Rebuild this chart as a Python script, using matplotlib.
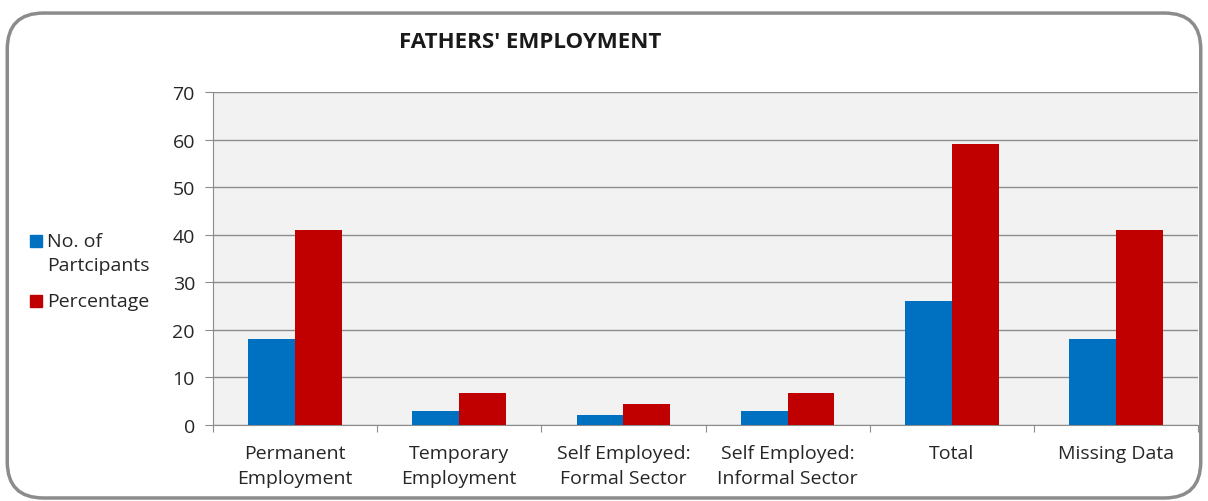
import matplotlib.pyplot as plt
import numpy as np
from matplotlib.patches import FancyBboxPatch, Rectangle

plt.rcParams['font.family'] = ['Open Sans', 'DejaVu Sans']

# data
categories = ["Permanent\nEmployment", "Temporary\nEmployment", "Self Employed:\nFormal Sector",
              "Self Employed:\nInformal Sector", "Total", "Missing Data"]
participants = [18, 3, 2, 3, 26, 18]
percentage = [40.9, 6.8, 4.5, 6.8, 59.1, 40.9]
series_labels = ["No. of\nPartcipants", "Percentage"]
yticks = [0, 10, 20, 30, 40, 50, 60, 70]

blue = "#0070C0"
red = "#C00000"
txt = "#262626"

W, H = 1208, 502
fig = plt.figure(figsize=(W / 100, H / 100), dpi=100)

# rounded outer frame, kept behind the axes
frame = FancyBboxPatch((0.006, 0.006), 0.988, 0.966, boxstyle="round,pad=0,rounding_size=0.03",
                       transform=fig.transFigure, facecolor="white", edgecolor="#8C8C8C",
                       linewidth=2.5, mutation_aspect=W / H, zorder=-10)
fig.patches.append(frame)

ax = fig.add_axes([213 / W, 76 / H, 985 / W, 333 / H])
ax.set_facecolor("#F2F2F2")

x = np.arange(len(categories))
w = 0.285
ax.bar(x - w / 2, participants, w, color=blue, zorder=3)
ax.bar(x + w / 2, percentage, w, color=red, zorder=3)

ax.set_xlim(-0.5, len(categories) - 0.5)
ax.set_ylim(0, 70)
ax.set_yticks(yticks)
ax.yaxis.grid(True, color="#8C8C8C", linewidth=1, zorder=0)
ax.set_xticks(np.arange(-0.5, len(categories)))
ax.set_xticklabels([])
ax.set_xticks(x, minor=True)
ax.set_xticklabels(categories, minor=True, fontsize=14, color=txt, linespacing=1.5)
ax.tick_params(axis="x", which="minor", length=0, pad=14)
ax.tick_params(axis="x", which="major", length=5, color="#8C8C8C", direction="out")
ax.tick_params(axis="y", length=6, color="#8C8C8C", labelsize=14, labelcolor=txt, pad=7)

for s in ["top", "right"]:
    ax.spines[s].set_visible(False)
ax.spines["left"].set_color("#8C8C8C")
ax.spines["bottom"].set_color("#8C8C8C")

fig.text(530 / W, 1 - 43 / H, "FATHERS' EMPLOYMENT", fontsize=16, fontweight="bold",
         ha="center", va="center", color="#1a1a1a")

# legend drawn by hand so the square sits on the first line of a wrapped label
legend_tops = [236, 296]
for lab, col, top in zip(series_labels, [blue, red], legend_tops):
    fig.patches.append(Rectangle((30 / W, 1 - (top + 12) / H), 12 / W, 12 / H,
                                 transform=fig.transFigure, color=col))
    fig.text(47 / W, 1 - (top - 3) / H, lab, fontsize=14, color=txt, ha="left", va="top",
             linespacing=1.45)

fig.savefig("out.png", dpi=100)
